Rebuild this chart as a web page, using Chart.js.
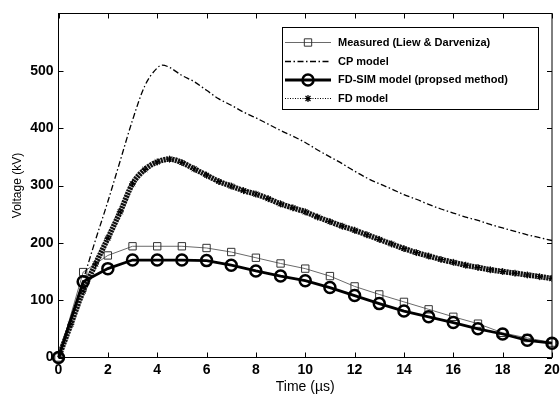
<!DOCTYPE html>
<html><head><meta charset="utf-8">
<script src="https://cdn.jsdelivr.net/npm/chart.js@4.4.1/dist/chart.umd.min.js"></script>
<style>html,body{margin:0;padding:0;background:#fff}#wrap{width:560px;height:396px;position:relative}</style>
</head><body><div id="wrap"><canvas id="c" width="560" height="396"></canvas></div>
<script>
// ---- data ----
const timeMarkers = [0,1,2,3,4,5,6,7,8,9,10,11,12,13,14,15,16,17,18,19,20];
const measured    = [0,149,178,194,194,194,191,184,174,164,155,142,124,110,97,84,71,59,43,34,26];
const fdSim       = [0,132,155,170,170,170,169,161,151,142,134,122,108,94,81,71,61,50,41,30,25];

const timeCP  = [0,0.5,1,1.5,2,2.5,3,3.5,4,4.2,4.5,5,5.5,6,6.5,7,7.5,8,8.5,9,9.5,10,10.5,11,11.5,12,12.5,13,13.5,14,14.5,15,15.5,16,16.5,17,17.5,18,18.5,19,19.5,20];
const cpModel = [0,65,135,205,272,343,414,474,505,510,506,492,481,466,451,440,428,418,407,396,386,375,362,350,338,325,313,303,294,284,276,267,259,252,245,239,232,226,220,214,209,204];

const timeFD  = [0,0.5,1,1.5,2,2.5,3,3.5,4,4.5,5,5.5,6,6.5,7,7.5,8,8.5,9,9.5,10,10.5,11,11.5,12,12.5,13,13.5,14,14.5,15,15.5,16,16.5,17,17.5,18,18.5,19,19.5,20];
const fdModel = [0,58,116,163,208,254,303,328,341,346,340,329,318,307,299,291,285,277,268,261,254,245,237,229,222,214,206,198,190,183,177,171,166,161,157,153,150,147,144,141,138];

const xTicks = [0,2,4,6,8,10,12,14,16,18,20];
const yTicks = [0,100,200,300,400,500];
const seriesNames = ['Measured (Liew & Darveniza)','CP model','FD-SIM model (propsed method)','FD model'];
const xTitle = 'Time (\u00b5s)';
const yTitle = 'Voltage (kV)';

const pts = (xs, ys) => xs.map((x,i)=>({x:x, y:ys[i]}));
const FONT = "'Liberation Sans', Arial, sans-serif";

const frame = {
  id:'frame',
  afterDatasetsDraw(chart){
    const {ctx, chartArea:a, scales} = chart;
    const x = scales.x, y = scales.y;
    ctx.save();
    ctx.strokeStyle = '#000'; ctx.lineWidth = 1; ctx.setLineDash([]);
    ctx.strokeRect(a.left, a.top, a.right-a.left, a.bottom-a.top);
    const L = 5;
    ctx.beginPath();
    xTicks.forEach(v=>{
      const px = Math.round(x.getPixelForValue(v)) + 0.5;
      ctx.moveTo(px, a.bottom); ctx.lineTo(px, a.bottom - L);
      ctx.moveTo(px, a.top); ctx.lineTo(px, a.top + L);
    });
    yTicks.forEach(v=>{
      const py = Math.round(y.getPixelForValue(v)) + 0.5;
      ctx.moveTo(a.left, py); ctx.lineTo(a.left + L, py);
      ctx.moveTo(a.right, py); ctx.lineTo(a.right - L, py);
    });
    ctx.stroke();
    ctx.restore();
  }
};

const legendBox = {
  id:'legendBox',
  afterDraw(chart){
    const ctx = chart.ctx;
    const bx = 282.5, by = 27.5, bw = 256, bh = 82;
    ctx.save();
    ctx.fillStyle = '#fff'; ctx.fillRect(bx, by, bw, bh);
    ctx.strokeStyle = '#000'; ctx.lineWidth = 1; ctx.setLineDash([]);
    ctx.strokeRect(bx, by, bw, bh);
    const rows = [42.5, 61.5, 80, 98.5];
    const x0 = 285, x1 = 331, xm = 308, tx = 338;
    chart.data.datasets.forEach((ds, r)=>{
      const yy = rows[r];
      ctx.save();
      ctx.strokeStyle = ds.legendLine || ds.borderColor;
      ctx.lineWidth = ds.legendWidth || ds.borderWidth;
      ctx.setLineDash(ds.legendDash || ds.borderDash || []);
      ctx.beginPath(); ctx.moveTo(x0, yy); ctx.lineTo(x1, yy); ctx.stroke();
      ctx.setLineDash([]);
      if (ds.legendPoint) {
        ctx.strokeStyle = ds.pointBorderColor || '#000';
        ctx.fillStyle = 'rgba(0,0,0,0)';
        ctx.lineWidth = ds.legendPoint.borderWidth;
        Chart.helpers.drawPoint(ctx, ds.legendPoint, xm, yy);
      }
      ctx.restore();
      ctx.fillStyle = '#000';
      ctx.font = 'bold 11px ' + FONT;
      ctx.textBaseline = 'middle';
      ctx.textAlign = 'left';
      ctx.fillText(ds.label, tx, yy);
    });
    ctx.restore();
  }
};

new Chart(document.getElementById('c'), {
  type: 'line',
  data: {
    datasets: [
      {
        label: seriesNames[0],
        data: pts(timeMarkers, measured),
        borderColor: '#6a6a6a', borderWidth: 1, tension: 0,
        pointStyle: 'rect', pointRadius: 5.2, pointBorderColor: '#333',
        pointBackgroundColor: 'rgba(0,0,0,0)', pointBorderWidth: 1,
        clip: false, order: 3,
        legendPoint: {pointStyle:'rect', radius:5.2, borderWidth:1, rotation:0}
      },
      {
        label: seriesNames[1],
        data: pts(timeCP, cpModel),
        borderColor: '#000', borderWidth: 1.3, borderDash: [6,2.5,1.5,2.5],
        cubicInterpolationMode: 'monotone', pointRadius: 0,
        order: 2, legendWidth: 1.3
      },
      {
        label: seriesNames[2],
        data: pts(timeMarkers, fdSim),
        borderColor: '#000', borderWidth: 2.8, tension: 0,
        pointStyle: 'circle', pointRadius: 5.5, pointBorderColor: '#000',
        pointBackgroundColor: 'rgba(0,0,0,0)', pointBorderWidth: 2.5,
        clip: false, order: 0,
        legendPoint: {pointStyle:'circle', radius:5.5, borderWidth:2.5, rotation:0}
      },
      {
        label: seriesNames[3],
        data: pts(timeFD, fdModel),
        borderColor: '#111', borderWidth: 5.5, borderDash: [2.2,0.7],
        cubicInterpolationMode: 'monotone',
        pointStyle: 'star', pointRadius: 3.5, pointBorderWidth: 1,
        pointBorderColor: '#000', pointBackgroundColor: '#000',
        order: 1,
        legendLine: '#000', legendWidth: 1, legendDash: [1,1.5],
        legendPoint: {pointStyle:'star', radius:3.5, borderWidth:1.2, rotation:0}
      }
    ]
  },
  options: {
    responsive: false, animation: false, devicePixelRatio: 1,
    layout: { padding: { left: 0, right: 4.5, top: 13.5, bottom: 0 } },
    plugins: { legend: { display: false }, tooltip: { enabled: false } },
    scales: {
      x: {
        type: 'linear', min: 0, max: 20,
        grid: { display: false, drawTicks: false },
        border: { display: false },
        ticks: { stepSize: 2, color: '#000', padding: 4, maxRotation: 0,
                 font: { family: FONT, size: 14, weight: 'bold' } },
        title: { display: true, text: xTitle, color: '#000', padding: {top:0,bottom:0},
                 font: { family: FONT, size: 14 } },
        afterFit(s){ s.height = 38.5; s.paddingLeft = 0; s.paddingRight = 0; }
      },
      y: {
        type: 'linear', min: 0, max: 600,
        grid: { display: false, drawTicks: false },
        border: { display: false },
        ticks: { stepSize: 100, color: '#000', padding: 5,
                 font: { family: FONT, size: 14, weight: 'bold' } },
        afterBuildTicks(s){ s.ticks = s.ticks.filter(t => t.value <= 500); },
        title: { display: true, text: yTitle, color: '#000', padding: {top:10,bottom:0},
                 font: { family: FONT, size: 12 } },
        afterFit(s){ s.width = 58.5; s.paddingTop = 0; s.paddingBottom = 0; }
      }
    }
  },
  plugins: [frame, legendBox]
});
</script></body></html>
